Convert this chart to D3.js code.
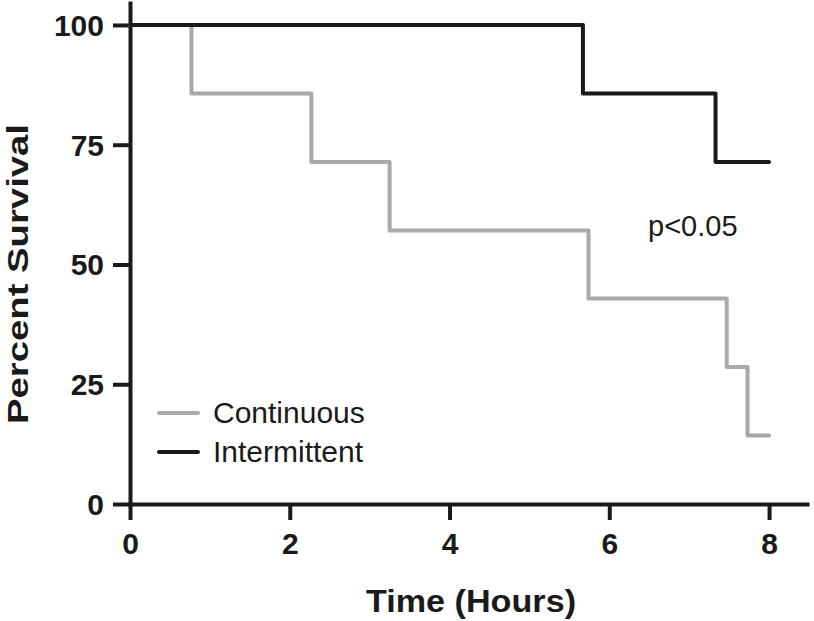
<!DOCTYPE html>
<html><head><meta charset="utf-8">
<script src="https://cdn.jsdelivr.net/npm/d3@7/dist/d3.min.js"></script>
<style>body{margin:0;background:#fff}svg{display:block}</style>
</head><body>
<svg id="c" width="814" height="621"></svg>
<script>
const xTicks = [0, 2, 4, 6, 8];
const yTicks = [0, 25, 50, 75, 100];
const seriesNames = ["Continuous", "Intermittent"];
const seriesColors = ["#a9a9a9", "#1a1a1a"];
const contTimes = [0, 0.77, 2.27, 3.25, 5.74, 7.47, 7.73, 8];
const contSurv = [100, 85.7, 71.4, 57.1, 42.9, 28.6, 14.3, 14.3];
const intTimes = [0, 5.67, 7.33, 8];
const intSurv = [100, 85.7, 71.4, 71.4];
const pText = "p<0.05";

const svg = d3.select("#c");
const x = d3.scaleLinear().domain([0, 8.5]).range([130, 809]);
const y = d3.scaleLinear().domain([0, 105]).range([504, 1]);
const font = "'Liberation Sans', Arial, Helvetica, sans-serif";

// axes
const xa = svg.append("g").attr("transform", `translate(0,${y(0)})`)
  .call(d3.axisBottom(x).tickValues(xTicks).tickSize(16).tickSizeOuter(0).tickPadding(13).tickFormat(d3.format("d")));
const ya = svg.append("g").attr("transform", `translate(${x(0)},0)`)
  .call(d3.axisLeft(y).tickValues(yTicks).tickSize(17).tickSizeOuter(0).tickPadding(9).tickFormat(d3.format("d")));
[xa, ya].forEach(g => {
  g.selectAll("path.domain, line").attr("stroke", "#1a1a1a").attr("stroke-width", 4);
  g.selectAll("text").attr("fill", "#1a1a1a").style("font-family", font)
    .style("font-weight", "bold").style("font-size", "30px");
});
ya.selectAll("text").attr("dy", "0.35em");

// series
const line = d3.line().curve(d3.curveStepAfter).x(d => x(d[0])).y(d => y(d[1]));
const series = [
  d3.zip(contTimes, contSurv),
  d3.zip(intTimes, intSurv)
];
series.forEach((s, i) => {
  svg.append("path").datum(s).attr("d", line).attr("fill", "none")
    .attr("stroke", seriesColors[i]).attr("stroke-width", 4)
    .attr("stroke-linejoin", "round").attr("stroke-linecap", "round");
});

// legend
const leg = svg.append("g");
seriesNames.forEach((n, i) => {
  const yy = 413 + i * 39;
  leg.append("line").attr("x1", 159).attr("x2", 198).attr("y1", yy).attr("y2", yy)
    .attr("stroke", seriesColors[i]).attr("stroke-width", 4).attr("stroke-linecap", "round");
  leg.append("text").attr("x", 213).attr("y", yy + 10).text(n)
    .style("font-family", font).style("font-size", "30px").attr("fill", "#1a1a1a");
});

// p value
svg.append("text").attr("x", 648).attr("y", 236).text(pText)
  .style("font-family", font).style("font-size", "29px").attr("fill", "#1a1a1a");

// axis titles
svg.append("text").attr("x", 471).attr("y", 612).attr("text-anchor", "middle")
  .text("Time (Hours)").style("font-family", font).style("font-weight", "bold")
  .style("font-size", "32px").attr("fill", "#1a1a1a")
  .attr("textLength", 210).attr("lengthAdjust", "spacingAndGlyphs");
svg.append("text").attr("transform", "translate(28,274) rotate(-90)").attr("text-anchor", "middle")
  .text("Percent Survival").style("font-family", font).style("font-weight", "bold")
  .style("font-size", "30px").attr("fill", "#1a1a1a")
  .attr("textLength", 300).attr("lengthAdjust", "spacingAndGlyphs");
</script>
</body></html>
